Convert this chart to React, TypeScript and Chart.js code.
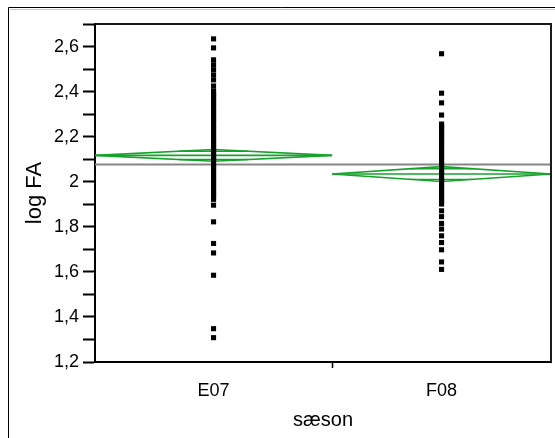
import React, { useEffect, useRef } from 'react';
import { Chart, registerables } from 'chart.js';

Chart.register(...registerables);

// ---- data ----
const categories = ['E07', 'F08'];
// relative width of each group on the x axis (JMP draws groups proportional to size)
const groupShares = [0.52, 0.48];

const e07Values = [
  2.634, 2.594, 2.541, 2.519, 2.497, 2.474, 2.452, 2.425, 2.403,
  2.392, 2.383, 2.371, 2.362, 2.351, 2.343, 2.332, 2.321, 2.312, 2.301,
  2.293, 2.282, 2.274, 2.263, 2.251, 2.242, 2.233, 2.221, 2.212, 2.203,
  2.192, 2.184, 2.172, 2.163, 2.151, 2.143, 2.131, 2.122, 2.113, 2.102,
  2.094, 2.083, 2.071, 2.062, 2.053, 2.041, 2.032, 2.021, 2.013, 2.002,
  1.993, 1.982, 1.974, 1.963, 1.951, 1.942, 1.933,
  1.922, 1.896, 1.822, 1.726, 1.684, 1.585, 1.348, 1.308,
];

const f08Values = [
  2.568, 2.393, 2.35, 2.296, 2.256, 2.249, 2.241,
  2.232, 2.223, 2.212, 2.203, 2.194, 2.182, 2.173, 2.164, 2.152, 2.143,
  2.134, 2.122, 2.113, 2.104, 2.093, 2.082, 2.074, 2.063, 2.052, 2.043,
  2.034, 2.022, 2.013, 2.004, 1.993, 1.982, 1.974, 1.963, 1.952, 1.943,
  1.932, 1.922, 1.911, 1.901,
  1.871, 1.845, 1.815, 1.79, 1.76, 1.73, 1.698, 1.644, 1.611,
];

const groupMeans = [2.117, 2.034];
const groupCIHalf = [0.026, 0.033];
const grandMean = 2.077;

const yMin = 1.2;
const yMax = 2.7;
const yStep = 0.1;

const xTitle = 'sæson';
const yTitle = 'log FA';

const GREEN = '#17a22c';
const FONT = '"Liberation Sans", Arial, sans-serif';

export default function App() {
  const ref = useRef<HTMLCanvasElement>(null);

  useEffect(() => {
    if (!ref.current) return;
    const bounds: number[] = [0];
    groupShares.forEach((s, i) => bounds.push(bounds[i] + s));
    const total = bounds[bounds.length - 1];
    const b = bounds.map((v) => v / total);
    const centers = categories.map((_, i) => (b[i] + b[i + 1]) / 2);

    const series = [e07Values, f08Values];
    const pointSets = series.map((vals, i) => ({
      label: categories[i],
      data: vals.map((v) => ({ x: centers[i], y: v })),
      showLine: false,
      pointStyle: 'rect',
      pointRadius: 3.6,
      pointBackgroundColor: '#000',
      pointBorderColor: '#000',
      pointBorderWidth: 0,
      order: 0,
    }));

    const lineSet = (data: { x: number; y: number }[], color: string, width: number, order: number) => ({
      data,
      showLine: true,
      borderColor: color,
      borderWidth: width,
      pointRadius: 0,
      fill: false,
      order,
    });

    const diamondSets: any[] = [];
    const k = Math.SQRT1_2;
    groupMeans.forEach((m, i) => {
      const l = b[i];
      const r = b[i + 1];
      const c = centers[i];
      const h = groupCIHalf[i];
      diamondSets.push(
        lineSet(
          [
            { x: l, y: m },
            { x: c, y: m + h },
            { x: r, y: m },
            { x: c, y: m - h },
            { x: l, y: m },
          ],
          GREEN,
          1.6,
          2
        )
      );
      diamondSets.push(lineSet([{ x: l, y: m }, { x: r, y: m }], GREEN, 1.6, 2));
      // overlap marks at mean ± h/√2, spanning the diamond width at that height
      const xl = c - (c - l) * (1 - k);
      const xr = c + (r - c) * (1 - k);
      diamondSets.push(lineSet([{ x: xl, y: m + h * k }, { x: xr, y: m + h * k }], GREEN, 1.4, 2));
      diamondSets.push(lineSet([{ x: xl, y: m - h * k }, { x: xr, y: m - h * k }], GREEN, 1.4, 2));
    });

    const grandSet = lineSet([{ x: 0, y: grandMean }, { x: 1, y: grandMean }], '#858585', 2, 3);

    const framePlugin = {
      id: 'frames',
      beforeDraw(chart: any) {
        const ctx = chart.ctx;
        ctx.save();
        ctx.fillStyle = '#fff';
        ctx.fillRect(0, 0, chart.width, chart.height);
        ctx.strokeStyle = '#000';
        ctx.lineWidth = 1;
        ctx.beginPath();
        ctx.moveTo(8.5, chart.height);
        ctx.lineTo(8.5, 7.5);
        ctx.lineTo(chart.width, 7.5);
        ctx.stroke();
        ctx.strokeStyle = '#c8c8c8';
        ctx.beginPath();
        ctx.moveTo(10, 9.5);
        ctx.lineTo(chart.width, 9.5);
        ctx.stroke();
        ctx.restore();
      },
      afterDraw(chart: any) {
        const { left, right, top, bottom } = chart.chartArea;
        const ctx = chart.ctx;
        ctx.save();
        ctx.strokeStyle = '#1a1a1a';
        ctx.lineWidth = 2;
        ctx.beginPath();
        ctx.moveTo(left, top);
        ctx.lineTo(right, top);
        ctx.lineTo(right, bottom);
        ctx.stroke();
        ctx.restore();
      },
    };

    const chart = new Chart(ref.current, {
      type: 'scatter',
      data: { datasets: [...pointSets, ...diamondSets, grandSet] as any },
      options: {
        animation: false,
        responsive: false,
        maintainAspectRatio: false,
        layout: { padding: { left: 0, top: 24, right: 2, bottom: 0 } },
        plugins: { legend: { display: false }, tooltip: { enabled: false } },
        scales: {
          x: {
            type: 'linear',
            min: 0,
            max: 1,
            afterFit: (s: any) => {
              s.height = 76;
            },
            afterBuildTicks: (s: any) => {
              s.ticks = [{ value: centers[0] }, { value: b[1] }, { value: centers[1] }];
            },
            ticks: {
              autoSkip: false,
              maxRotation: 0,
              padding: 12,
              color: '#000',
              font: { family: FONT, size: 18 },
              callback: (_v: any, i: number) => (i === 0 ? categories[0] : i === 2 ? categories[1] : ''),
            },
            grid: {
              drawOnChartArea: false,
              tickLength: 6,
              tickWidth: 1.5,
              tickColor: (ctx: any) => (ctx.index === 1 ? '#000' : 'rgba(0,0,0,0)'),
            },
            border: { color: '#000', width: 2 },
            title: {
              display: true,
              text: xTitle,
              color: '#000',
              font: { family: FONT, size: 20 },
              padding: { top: 0, bottom: 6 },
            },
          },
          y: {
            type: 'linear',
            min: yMin,
            max: yMax,
            afterFit: (s: any) => {
              s.width = 95;
            },
            ticks: {
              stepSize: yStep,
              autoSkip: false,
              padding: 4,
              color: '#000',
              font: { family: FONT, size: 18 },
              callback: (v: any) => {
                const t = Math.round(Number(v) * 10);
                if (t % 2 !== 0) return '';
                return String(t / 10).replace('.', ',');
              },
            },
            grid: {
              drawOnChartArea: false,
              tickLength: 12,
              tickWidth: 2,
              tickColor: '#000',
            },
            border: { color: '#000', width: 2 },
            title: {
              display: true,
              text: yTitle,
              color: '#000',
              font: { family: FONT, size: 22 },
              padding: { top: 22, bottom: 0 },
            },
          },
        },
      },
      plugins: [framePlugin],
    });
    return () => chart.destroy();
  }, []);

  return (
    <div style={{ position: 'absolute', left: 0, top: 0, width: 555, height: 438, background: '#fff' }}>
      <canvas ref={ref} width={555} height={438} style={{ display: 'block', width: 555, height: 438 }} />
    </div>
  );
}
